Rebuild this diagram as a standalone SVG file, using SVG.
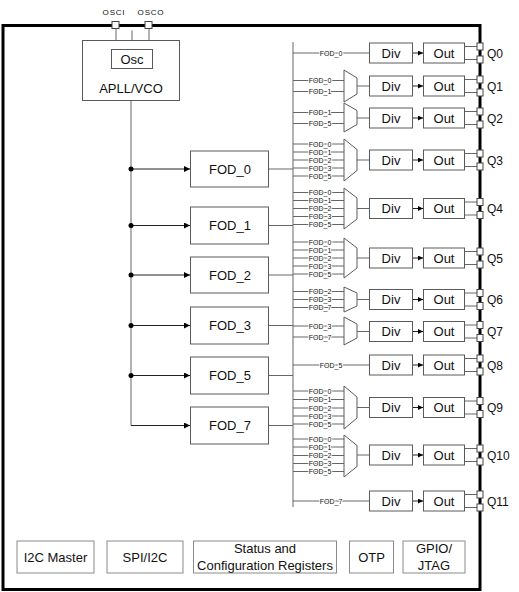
<svg xmlns="http://www.w3.org/2000/svg" width="519" height="592" viewBox="0 0 519 592">
<style>
.b{fill:#fff;stroke:#5a5a5a;stroke-width:1}
.g{fill:#fff;stroke:#8a8a8a;stroke-width:1}
.l{stroke:#666;stroke-width:1;fill:none}
.k{stroke:#222;stroke-width:1;fill:none}
.t{font-family:"Liberation Sans",Arial,sans-serif;font-size:13px;fill:#111;text-anchor:middle}
.q{font-family:"Liberation Sans",Arial,sans-serif;font-size:12px;fill:#111}
.s{font-family:"Liberation Sans",Arial,sans-serif;font-size:7px;fill:#111;text-anchor:middle;stroke:#fff;stroke-width:2;paint-order:stroke}
.o{font-family:"Liberation Sans",Arial,sans-serif;font-size:8px;fill:#111;text-anchor:middle;letter-spacing:0.8px}
.p{fill:#fff;stroke:#444;stroke-width:1}
</style>
<defs>
<marker id="ah" markerWidth="6" markerHeight="6" refX="6" refY="3" orient="auto" markerUnits="userSpaceOnUse"><path d="M0,0 L6,3 L0,6 z" fill="#000"/></marker>
<marker id="as" markerWidth="5" markerHeight="5" refX="5" refY="2.5" orient="auto" markerUnits="userSpaceOnUse"><path d="M0,0 L5,2.5 L0,5 z" fill="#000"/></marker>
</defs>
<rect x="0" y="0" width="519" height="592" fill="#fff"/>
<!-- chip border -->
<rect x="3" y="25.5" width="477" height="564" fill="none" stroke="#000" stroke-width="3"/>

<g id="connectors">
<!-- osc pins to APLL -->
<path class="l" d="M116,28.5 V40 M149,28.5 V40 M132,30.5 V40"/>
<!-- vco trunk -->
<path class="l" d="M131,101 V425.5"/>
<path class="k" d="M131,169 H190" marker-end="url(#ah)"/>
<path class="k" d="M131,225.5 H190" marker-end="url(#ah)"/>
<path class="k" d="M131,275 H190" marker-end="url(#ah)"/>
<path class="k" d="M131,325.5 H190" marker-end="url(#ah)"/>
<path class="k" d="M131,375.5 H190" marker-end="url(#ah)"/>
<path class="k" d="M131,425.5 H190" marker-end="url(#ah)"/>
<circle cx="131" cy="169" r="2.5" fill="#000"/>
<circle cx="131" cy="225.5" r="2.5" fill="#000"/>
<circle cx="131" cy="275" r="2.5" fill="#000"/>
<circle cx="131" cy="325.5" r="2.5" fill="#000"/>
<circle cx="131" cy="375.5" r="2.5" fill="#000"/>
<!-- FOD outputs to bus -->
<path class="l" d="M268,169 H293 M268,225.5 H293 M268,275 H293 M268,325.5 H293 M268,375.5 H293 M268,425.5 H293"/>
<!-- bus -->
<path class="l" d="M293,42 V507"/>
<!-- input lines -->
<path class="l" d="M293,53 H369 M293,365 H369 M293,501 H369"/>
<path class="l" d="M293,80.5 H344 M293,91.5 H344 M293,112.5 H344 M293,123.5 H344"/>
<path class="l" d="M293,144 H344 M293,152 H344 M293,160 H344 M293,168 H344 M293,176 H344"/>
<path class="l" d="M293,192.5 H344 M293,200.5 H344 M293,208.5 H344 M293,216.5 H344 M293,224.5 H344"/>
<path class="l" d="M293,242 H344 M293,250 H344 M293,258 H344 M293,266 H344 M293,274 H344"/>
<path class="l" d="M293,291.5 H344 M293,299.5 H344 M293,307.5 H344 M293,326 H344 M293,337 H344"/>
<path class="l" d="M293,391 H344 M293,399.5 H344 M293,408 H344 M293,416 H344 M293,424 H344"/>
<path class="l" d="M293,439 H344 M293,447 H344 M293,455.5 H344 M293,463.5 H344 M293,471.5 H344"/>
<!-- mux outputs -->
<path class="l" d="M357,86 H369 M357,118 H369 M357,160 H369 M357,208.5 H369 M357,258 H369 M357,299.5 H369 M357,331.5 H369 M357,407.5 H369 M357,455 H369"/>
<!-- div to out -->
<path class="k" d="M413,53 H423" marker-end="url(#as)"/>
<path class="k" d="M413,86 H423" marker-end="url(#as)"/>
<path class="k" d="M413,118 H423" marker-end="url(#as)"/>
<path class="k" d="M413,160 H423" marker-end="url(#as)"/>
<path class="k" d="M413,208.5 H423" marker-end="url(#as)"/>
<path class="k" d="M413,258 H423" marker-end="url(#as)"/>
<path class="k" d="M413,299.5 H423" marker-end="url(#as)"/>
<path class="k" d="M413,331.5 H423" marker-end="url(#as)"/>
<path class="k" d="M413,365 H423" marker-end="url(#as)"/>
<path class="k" d="M413,407.5 H423" marker-end="url(#as)"/>
<path class="k" d="M413,455 H423" marker-end="url(#as)"/>
<path class="k" d="M413,501 H423" marker-end="url(#as)"/>
<!-- out to pins -->
<path class="l" d="M465,46.5 H477 M465,59.5 H477 M465,79.5 H477 M465,92.5 H477 M465,111.5 H477 M465,124.5 H477 M465,153.5 H477 M465,166.5 H477 M465,202 H477 M465,215 H477 M465,251.5 H477 M465,264.5 H477 M465,293 H477 M465,306 H477 M465,325 H477 M465,338 H477 M465,358.5 H477 M465,371.5 H477 M465,401 H477 M465,414 H477 M465,448.5 H477 M465,461.5 H477 M465,494.5 H477 M465,507.5 H477"/>
</g>

<g id="mux-labels">
<text class="s" x="331" y="55.5">FOD_0</text>
<text class="s" x="331" y="367.5">FOD_5</text>
<text class="s" x="331" y="503.5">FOD_7</text>
<text class="s" x="320" y="83">FOD_0</text><text class="s" x="320" y="94">FOD_1</text>
<text class="s" x="320" y="115">FOD_1</text><text class="s" x="320" y="126">FOD_5</text>
<text class="s" x="320" y="146.5">FOD_0</text><text class="s" x="320" y="154.5">FOD_1</text><text class="s" x="320" y="162.5">FOD_2</text><text class="s" x="320" y="170.5">FOD_3</text><text class="s" x="320" y="178.5">FOD_5</text>
<text class="s" x="320" y="195">FOD_0</text><text class="s" x="320" y="203">FOD_1</text><text class="s" x="320" y="211">FOD_2</text><text class="s" x="320" y="219">FOD_3</text><text class="s" x="320" y="227">FOD_5</text>
<text class="s" x="320" y="244.5">FOD_0</text><text class="s" x="320" y="252.5">FOD_1</text><text class="s" x="320" y="260.5">FOD_2</text><text class="s" x="320" y="268.5">FOD_3</text><text class="s" x="320" y="276.5">FOD_5</text>
<text class="s" x="320" y="294">FOD_2</text><text class="s" x="320" y="302">FOD_3</text><text class="s" x="320" y="310">FOD_7</text>
<text class="s" x="320" y="328.5">FOD_3</text><text class="s" x="320" y="339.5">FOD_7</text>
<text class="s" x="320" y="393.5">FOD_0</text><text class="s" x="320" y="402">FOD_1</text><text class="s" x="320" y="410.5">FOD_2</text><text class="s" x="320" y="418.5">FOD_3</text><text class="s" x="320" y="426.5">FOD_5</text>
<text class="s" x="320" y="441.5">FOD_0</text><text class="s" x="320" y="449.5">FOD_1</text><text class="s" x="320" y="458">FOD_2</text><text class="s" x="320" y="466">FOD_3</text><text class="s" x="320" y="474">FOD_5</text>
</g>

<g id="osc-pins">
<rect class="p" x="112" y="21.5" width="7" height="7"/>
<rect class="p" x="145" y="21.5" width="7" height="7"/>
<text class="o" x="114" y="15">OSCI</text>
<text class="o" x="151" y="15">OSCO</text>
</g>

<g id="apll">
<rect class="b" x="82.5" y="40.5" width="97" height="60"/>
<text class="t" x="131" y="93">APLL/VCO</text>
</g>
<g id="osc">
<rect class="b" x="111.5" y="49.5" width="41" height="19"/>
<text class="t" x="132" y="63.5">Osc</text>
</g>

<g id="fod0"><rect class="b" x="190.5" y="151" width="78" height="36"/><text class="t" x="230" y="173.5">FOD_0</text></g>
<g id="fod1"><rect class="b" x="190.5" y="207" width="78" height="37"/><text class="t" x="230" y="230">FOD_1</text></g>
<g id="fod2"><rect class="b" x="190.5" y="257" width="78" height="36"/><text class="t" x="230" y="279.5">FOD_2</text></g>
<g id="fod3"><rect class="b" x="190.5" y="307" width="78" height="37"/><text class="t" x="230" y="330">FOD_3</text></g>
<g id="fod5"><rect class="b" x="190.5" y="357" width="78" height="37"/><text class="t" x="230" y="380">FOD_5</text></g>
<g id="fod7"><rect class="b" x="190.5" y="407" width="78" height="37"/><text class="t" x="230" y="430">FOD_7</text></g>

<g id="muxes">
<polygon class="b" points="344,70 357,78 357,94 344,102"/>
<polygon class="b" points="344,103 357,110.5 357,124.5 344,132"/>
<polygon class="b" points="344,139 357,149.5 357,170.5 344,181"/>
<polygon class="b" points="344,188 357,198 357,219 344,229"/>
<polygon class="b" points="344,238 357,248 357,268 344,278"/>
<polygon class="b" points="344,287 357,293 357,306 344,312"/>
<polygon class="b" points="344,317 357,324 357,338 344,345"/>
<polygon class="b" points="344,386 357,397 357,418 344,429"/>
<polygon class="b" points="344,435 357,445.5 357,466.5 344,477"/>
</g>

<g id="q0"><rect class="b" x="369.5" y="43" width="43" height="20"/><text class="t" x="391" y="57.5">Div</text><rect class="b" x="423.5" y="43" width="41" height="20"/><text class="t" x="444" y="57.5">Out</text><rect class="p" x="477" y="43" width="6" height="7"/><rect class="p" x="477" y="56" width="6" height="7"/><text class="q" x="487" y="57.5">Q0</text></g>
<g id="q1"><rect class="b" x="369.5" y="76" width="43" height="20"/><text class="t" x="391" y="90.5">Div</text><rect class="b" x="423.5" y="76" width="41" height="20"/><text class="t" x="444" y="90.5">Out</text><rect class="p" x="477" y="76" width="6" height="7"/><rect class="p" x="477" y="89" width="6" height="7"/><text class="q" x="487" y="90.5">Q1</text></g>
<g id="q2"><rect class="b" x="369.5" y="108" width="43" height="20"/><text class="t" x="391" y="122.5">Div</text><rect class="b" x="423.5" y="108" width="41" height="20"/><text class="t" x="444" y="122.5">Out</text><rect class="p" x="477" y="108" width="6" height="7"/><rect class="p" x="477" y="121" width="6" height="7"/><text class="q" x="487" y="122.5">Q2</text></g>
<g id="q3"><rect class="b" x="369.5" y="150" width="43" height="20"/><text class="t" x="391" y="164.5">Div</text><rect class="b" x="423.5" y="150" width="41" height="20"/><text class="t" x="444" y="164.5">Out</text><rect class="p" x="477" y="150" width="6" height="7"/><rect class="p" x="477" y="163" width="6" height="7"/><text class="q" x="487" y="164.5">Q3</text></g>
<g id="q4"><rect class="b" x="369.5" y="198.5" width="43" height="20"/><text class="t" x="391" y="213">Div</text><rect class="b" x="423.5" y="198.5" width="41" height="20"/><text class="t" x="444" y="213">Out</text><rect class="p" x="477" y="198.5" width="6" height="7"/><rect class="p" x="477" y="211.5" width="6" height="7"/><text class="q" x="487" y="213">Q4</text></g>
<g id="q5"><rect class="b" x="369.5" y="248" width="43" height="20"/><text class="t" x="391" y="262.5">Div</text><rect class="b" x="423.5" y="248" width="41" height="20"/><text class="t" x="444" y="262.5">Out</text><rect class="p" x="477" y="248" width="6" height="7"/><rect class="p" x="477" y="261" width="6" height="7"/><text class="q" x="487" y="262.5">Q5</text></g>
<g id="q6"><rect class="b" x="369.5" y="289.5" width="43" height="20"/><text class="t" x="391" y="304">Div</text><rect class="b" x="423.5" y="289.5" width="41" height="20"/><text class="t" x="444" y="304">Out</text><rect class="p" x="477" y="289.5" width="6" height="7"/><rect class="p" x="477" y="302.5" width="6" height="7"/><text class="q" x="487" y="304">Q6</text></g>
<g id="q7"><rect class="b" x="369.5" y="321.5" width="43" height="20"/><text class="t" x="391" y="336">Div</text><rect class="b" x="423.5" y="321.5" width="41" height="20"/><text class="t" x="444" y="336">Out</text><rect class="p" x="477" y="321.5" width="6" height="7"/><rect class="p" x="477" y="334.5" width="6" height="7"/><text class="q" x="487" y="336">Q7</text></g>
<g id="q8"><rect class="b" x="369.5" y="355" width="43" height="20"/><text class="t" x="391" y="369.5">Div</text><rect class="b" x="423.5" y="355" width="41" height="20"/><text class="t" x="444" y="369.5">Out</text><rect class="p" x="477" y="355" width="6" height="7"/><rect class="p" x="477" y="368" width="6" height="7"/><text class="q" x="487" y="369.5">Q8</text></g>
<g id="q9"><rect class="b" x="369.5" y="397.5" width="43" height="20"/><text class="t" x="391" y="412">Div</text><rect class="b" x="423.5" y="397.5" width="41" height="20"/><text class="t" x="444" y="412">Out</text><rect class="p" x="477" y="397.5" width="6" height="7"/><rect class="p" x="477" y="410.5" width="6" height="7"/><text class="q" x="487" y="412">Q9</text></g>
<g id="q10"><rect class="b" x="369.5" y="445" width="43" height="20"/><text class="t" x="391" y="459.5">Div</text><rect class="b" x="423.5" y="445" width="41" height="20"/><text class="t" x="444" y="459.5">Out</text><rect class="p" x="477" y="445" width="6" height="7"/><rect class="p" x="477" y="458" width="6" height="7"/><text class="q" x="487" y="459.5">Q10</text></g>
<g id="q11"><rect class="b" x="369.5" y="491" width="43" height="20"/><text class="t" x="391" y="505.5">Div</text><rect class="b" x="423.5" y="491" width="41" height="20"/><text class="t" x="444" y="505.5">Out</text><rect class="p" x="477" y="491" width="6" height="7"/><rect class="p" x="477" y="504" width="6" height="7"/><text class="q" x="487" y="505.5">Q11</text></g>

<g id="i2c-master"><rect class="g" x="17" y="541" width="77" height="32"/><text class="t" x="55.5" y="561.5">I2C Master</text></g>
<g id="spi-i2c"><rect class="g" x="107" y="541" width="76" height="32"/><text class="t" x="145" y="561.5">SPI/I2C</text></g>
<g id="status-regs"><rect class="g" x="193.5" y="541" width="143" height="32"/><text class="t" x="265" y="553">Status and</text><text class="t" x="265" y="569.5">Configuration Registers</text></g>
<g id="otp"><rect class="g" x="349.5" y="541" width="44" height="32"/><text class="t" x="371.5" y="561.5">OTP</text></g>
<g id="gpio-jtag"><rect class="g" x="403" y="541" width="62" height="32"/><text class="t" x="434" y="553">GPIO/</text><text class="t" x="434" y="569.5">JTAG</text></g>
</svg>
